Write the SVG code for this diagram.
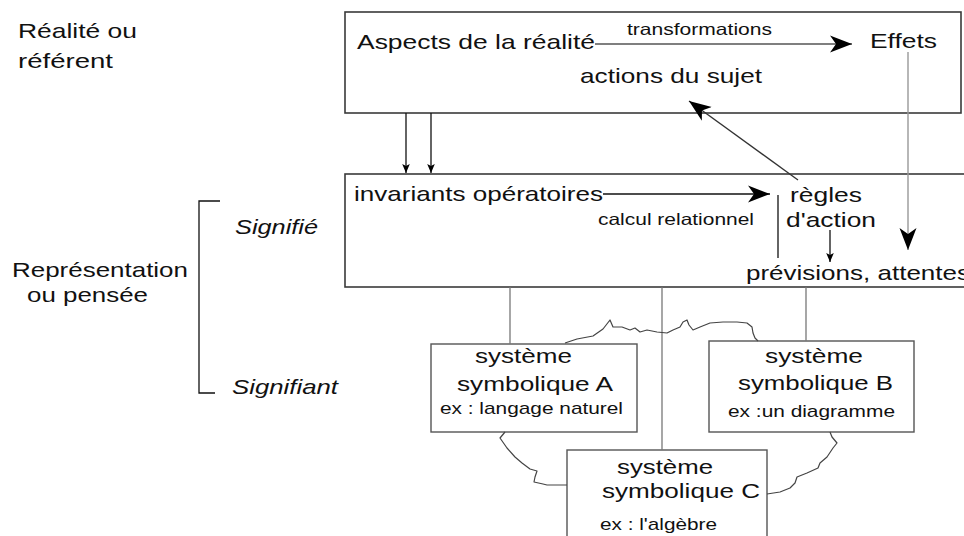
<svg xmlns="http://www.w3.org/2000/svg" width="964" height="536" viewBox="0 0 964 536">
<defs>
<style>
text{font-family:"Liberation Sans",Arial,sans-serif;fill:#111}
.l{font-size:21px}
.s{font-size:16.5px}
.e{font-size:17px}
.it{font-style:italic}
.box{fill:#fff;stroke:#3a3a3a;stroke-width:1.6}
.sbox{fill:#fff;stroke:#555;stroke-width:1.4}
.ln{fill:none;stroke:#777;stroke-width:1.3}
.k{fill:none;stroke:#111;stroke-width:1.3}
.g{fill:none;stroke:#555;stroke-width:1.4}
.cl{fill:none;stroke:#444;stroke-width:1.2;stroke-linejoin:round}
</style>
<marker id="big" viewBox="0 -9 22 18" markerWidth="22" markerHeight="18" refX="22" refY="0" markerUnits="userSpaceOnUse" orient="auto"><path d="M0,-8.5L22,0L0,8.5L6,0Z" fill="#000"/></marker>
<marker id="sm" viewBox="0 -4 9 8" markerWidth="9" markerHeight="8" refX="9" refY="0" markerUnits="userSpaceOnUse" orient="auto"><path d="M0,-3.8L9,0L0,3.8L2,0Z" fill="#000"/></marker>
</defs>
<rect width="964" height="536" fill="#fff"/>

<g id="labels">
<text class="l" x="18" y="38" textLength="119" lengthAdjust="spacingAndGlyphs">Réalité ou</text>
<text class="l" x="18" y="68" textLength="95" lengthAdjust="spacingAndGlyphs">référent</text>
<text class="l" x="12" y="277" textLength="176" lengthAdjust="spacingAndGlyphs">Représentation</text>
<text class="l" x="27" y="302" textLength="121" lengthAdjust="spacingAndGlyphs">ou pensée</text>
<text class="l it" x="235" y="234" textLength="83" lengthAdjust="spacingAndGlyphs">Signifié</text>
<text class="l it" x="232" y="394" textLength="106" lengthAdjust="spacingAndGlyphs">Signifiant</text>
<path class="k" d="M220,201H199V393H215"/>
</g>

<g id="realite">
<rect class="box" x="345" y="12" width="616" height="101"/>
<text class="l" x="357" y="49" textLength="238" lengthAdjust="spacingAndGlyphs">Aspects de la réalité</text>
<text class="l" x="870" y="48" textLength="67" lengthAdjust="spacingAndGlyphs">Effets</text>
<text class="l" x="580" y="83" textLength="182" lengthAdjust="spacingAndGlyphs">actions du sujet</text>
</g>

<g id="representation">
<rect class="box" x="345" y="174" width="640" height="113"/>
<text class="l" x="354" y="201" textLength="249" lengthAdjust="spacingAndGlyphs">invariants opératoires</text>
<text class="s" x="598" y="225" textLength="156" lengthAdjust="spacingAndGlyphs">calcul relationnel</text>
<text class="l" x="790" y="202" textLength="72" lengthAdjust="spacingAndGlyphs">règles</text>
<text class="l" x="786" y="227" textLength="90" lengthAdjust="spacingAndGlyphs">d'action</text>
<text class="l" x="746" y="280" textLength="224" lengthAdjust="spacingAndGlyphs">prévisions, attentes</text>
</g>

<g id="systemeA">
<rect class="sbox" x="431" y="344" width="206" height="88"/>
<text class="l" x="475" y="363" textLength="97" lengthAdjust="spacingAndGlyphs">système</text>
<text class="l" x="457" y="391" textLength="156" lengthAdjust="spacingAndGlyphs">symbolique A</text>
<text class="e" x="440" y="414" textLength="183" lengthAdjust="spacingAndGlyphs">ex : langage naturel</text>
</g>

<g id="systemeB">
<rect class="sbox" x="709" y="341" width="205" height="91"/>
<text class="l" x="765" y="363" textLength="98" lengthAdjust="spacingAndGlyphs">système</text>
<text class="l" x="738" y="390" textLength="155" lengthAdjust="spacingAndGlyphs">symbolique B</text>
<text class="e" x="728" y="417" textLength="167" lengthAdjust="spacingAndGlyphs">ex :un diagramme</text>
</g>

<g id="systemeC">
<rect class="sbox" x="567" y="450" width="200" height="100"/>
<text class="l" x="617" y="474" textLength="96" lengthAdjust="spacingAndGlyphs">système</text>
<text class="l" x="602" y="498" textLength="158" lengthAdjust="spacingAndGlyphs">symbolique C</text>
<text class="e" x="600" y="530" textLength="117" lengthAdjust="spacingAndGlyphs">ex : l'algèbre</text>
</g>

<g id="connectors">
<line x1="595" y1="44" x2="852" y2="44" stroke="#555" stroke-width="1.4" marker-end="url(#big)"/>
<text class="s" x="627" y="35" textLength="145" lengthAdjust="spacingAndGlyphs">transformations</text>
<line class="k" x1="406" y1="113" x2="406" y2="173" marker-end="url(#sm)"/>
<line class="k" x1="431" y1="113" x2="431" y2="173" marker-end="url(#sm)"/>
<line x1="908" y1="52" x2="908" y2="250" stroke="#999" stroke-width="1.4" marker-end="url(#big)"/>
<line x1="798" y1="180" x2="689" y2="101" stroke="#333" stroke-width="1.3" marker-end="url(#big)"/>
<line class="k" x1="603" y1="194" x2="770" y2="194" marker-end="url(#big)"/>
<line class="k" x1="778" y1="195" x2="778" y2="258"/>
<line class="k" x1="830" y1="230" x2="830" y2="262" marker-end="url(#sm)"/>
<line class="ln" x1="510" y1="287" x2="510" y2="344"/>
<line class="ln" x1="662" y1="287" x2="662" y2="450"/>
<line class="ln" x1="806" y1="287" x2="806" y2="341"/>
<polyline class="cl" points="565,343 577,339 593,336 603,329 610,320 613,327 622,327 630,330 635,328 640,332 647,330 657,332 667,333 673,330 680,327 683,322 687,320 689,325 693,330 700,327 710,323 723,322 737,322 747,323 752,327 753,333 755,338 758,341"/>
<polyline class="cl" points="505,432 500,438 507,448 515,457 522,463 530,469 537,471 535,477 534,482 543,484 547,485 567,485"/>
<polyline class="cl" points="830,432 832,437 837,443 833,448 827,457 820,463 818,468 807,473 797,477 795,483 790,488 780,492 767,494"/>
</g>
</svg>
